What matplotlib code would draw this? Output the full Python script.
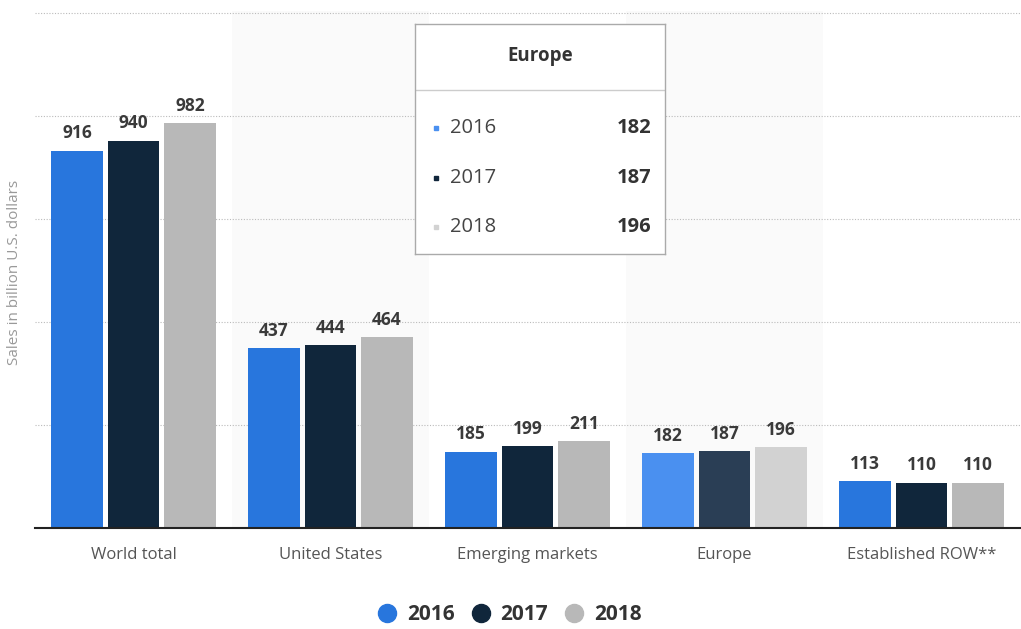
import matplotlib.pyplot as plt
import numpy as np
from matplotlib.lines import Line2D

plt.rcParams['font.family'] = ['Open Sans', 'DejaVu Sans']

categories = ["World total", "United States", "Emerging markets", "Europe", "Established ROW**"]
years = ["2016", "2017", "2018"]
sales_2016 = [916, 437, 185, 182, 113]
sales_2017 = [940, 444, 199, 187, 110]
sales_2018 = [982, 464, 211, 196, 110]
series = [sales_2016, sales_2017, sales_2018]

colors = ["#2876dd", "#10263b", "#b8b8b8"]
hover_colors = ["#4a90f0", "#2a3e55", "#d2d2d2"]
hover_idx = 3  # Europe is hovered

fig = plt.figure(figsize=(10.21, 6.29), dpi=100)
ax = fig.add_axes([35 / 1021, 1 - 528 / 629, 985 / 1021, 517 / 629])

x = np.arange(len(categories))
w = 0.26
step = 0.287

# faint bands behind alternate categories
for i in (1, 3):
    ax.axvspan(i - 0.5, i + 0.5, color="#fafafa", zorder=0, lw=0)

for k, vals in enumerate(series):
    cols = [hover_colors[k] if i == hover_idx else colors[k] for i in range(len(categories))]
    bars = ax.bar(x + (k - 1) * step, vals, width=w, color=cols, zorder=3)
    for b, v in zip(bars, vals):
        ax.annotate(str(v), (b.get_x() + b.get_width() / 2, v), xytext=(0, 6),
                    textcoords="offset points", ha="center", va="bottom",
                    fontsize=12.5, fontweight="bold", color="#3a3a3a", zorder=4)

ax.set_xlim(-0.5, 4.5)
ax.set_ylim(0, 1255)
ax.set_yticks([250, 500, 750, 1000, 1250])
ax.yaxis.grid(True, linestyle=(0, (1, 1.5)), color="#bbbbbb", linewidth=0.8, zorder=1)
ax.set_axisbelow(True)
ax.tick_params(axis="y", left=False, labelleft=False)
ax.tick_params(axis="x", bottom=False, pad=10, labelsize=12, labelcolor="#555555")
ax.set_xticks(x)
ax.set_xticklabels(categories)
for s in ["top", "right", "left"]:
    ax.spines[s].set_visible(False)
ax.spines["bottom"].set_color("#222222")
ax.spines["bottom"].set_linewidth(1.5)
ax.spines["bottom"].set_zorder(5)

fig.text(15 / 1021, 1 - 272 / 629, "Sales in billion U.S. dollars", rotation=90,
         ha="center", va="center", fontsize=11, color="#999999")

handles = [Line2D([], [], marker="o", linestyle="none", markersize=13,
                  markerfacecolor=c, markeredgecolor=c) for c in colors]
leg = fig.legend(handles, years, loc="center", bbox_to_anchor=(508 / 1021, 1 - 615 / 629),
                 ncol=3, frameon=False, handletextpad=0.35, columnspacing=0.65,
                 handlelength=1.2, prop={"size": 15, "weight": "bold"})
for t in leg.get_texts():
    t.set_color("#333333")

# tooltip for Europe
tip = fig.add_axes([415 / 1021, 1 - 254 / 629, 250 / 1021, 230 / 629])
tip.set_xlim(0, 250)
tip.set_ylim(230, 0)
tip.set_facecolor("white")
tip.set_xticks([])
tip.set_yticks([])
for s in tip.spines.values():
    s.set_color("#aaaaaa")
    s.set_linewidth(1)
tip.text(125, 32, categories[hover_idx], ha="center", va="center",
         fontsize=13.5, fontweight="bold", color="#333333")
tip.axhline(66, color="#cccccc", linewidth=1)
row_y = [104, 154, 203]
for k in range(3):
    tip.plot(21, row_y[k], marker="s", markersize=2.5, color=hover_colors[k] if k != 1 else colors[1])
    tip.text(35, row_y[k], years[k], ha="left", va="center", fontsize=14.5, color="#444444")
    tip.text(236, row_y[k], str(series[k][hover_idx]), ha="right", va="center",
             fontsize=14.5, fontweight="bold", color="#333333")

fig.savefig("out.png", dpi=100)
